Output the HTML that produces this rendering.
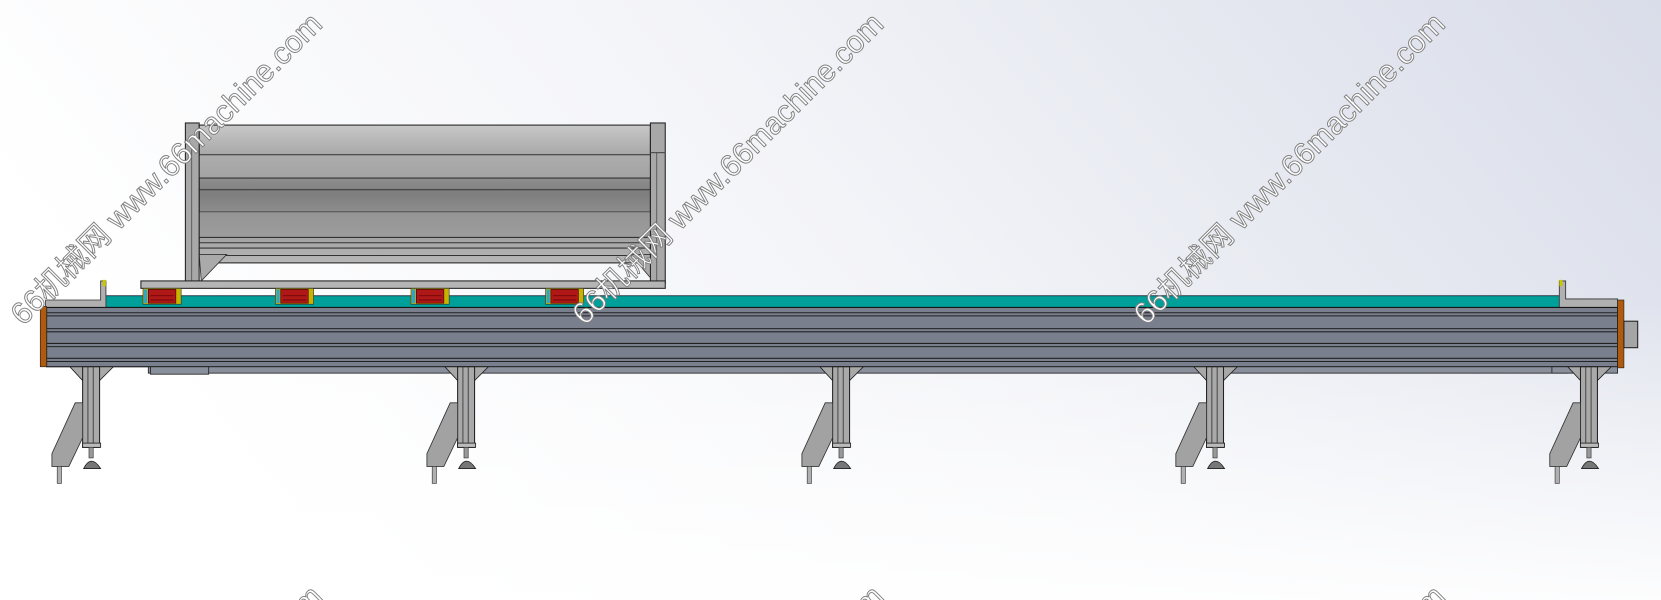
<!DOCTYPE html>
<html><head><meta charset="utf-8"><style>
html,body{margin:0;padding:0;width:1661px;height:600px;overflow:hidden}
svg{display:block;overflow:hidden}
</style></head><body>
<svg width="1661" height="600" viewBox="0 0 1568 566" preserveAspectRatio="none" xmlns="http://www.w3.org/2000/svg">
<defs>
<linearGradient id="bg" x1="0" y1="0.3" x2="1" y2="0">
<stop offset="0" stop-color="#ffffff"/><stop offset="0.45" stop-color="#f3f4f8"/><stop offset="1" stop-color="#d9dde9"/>
</linearGradient>
<linearGradient id="bg2" x1="0" y1="0" x2="0" y2="1">
<stop offset="0.5" stop-color="#ffffff" stop-opacity="0"/><stop offset="1" stop-color="#ffffff" stop-opacity="0.9"/>
</linearGradient>
<linearGradient id="roll" x1="0" y1="0" x2="0" y2="1">
<stop offset="0" stop-color="#c8c8c8"/><stop offset="0.5" stop-color="#7e7e7e"/><stop offset="1" stop-color="#b8b8b8"/>
</linearGradient>
<clipPath id="c"><rect width="1568" height="566"/></clipPath>
<g id="leg">
<polygon points="-12,346 29,346 16,359 0,359" fill="#a8a8a8" stroke="#222" stroke-width="0.8"/>
<rect x="0" y="346" width="16" height="76" fill="#a9a9a9" stroke="#222" stroke-width="1"/>
<line x1="5" y1="346" x2="5" y2="422" stroke="#333" stroke-width="0.8"/>
<line x1="10" y1="346" x2="10" y2="422" stroke="#333" stroke-width="0.8"/>
<rect x="0" y="418" width="17" height="4" fill="#bbb" stroke="#222" stroke-width="0.8"/>
<polygon points="-7,380 0,380 0,413 -13,440 -29,440 -29,428" fill="#a2a2a2" stroke="#333" stroke-width="0.8"/>
<rect x="6" y="422" width="4" height="10" fill="#999" stroke="#333" stroke-width="0.6"/>
<path d="M1,442 Q8,428 17,442 Z" fill="#777" stroke="#222" stroke-width="0.8"/>
<rect x="-24" y="440" width="4" height="16" fill="#b0b0b0" stroke="#333" stroke-width="0.6"/>
</g>
<g id="blk">
<rect x="0" y="272" width="36" height="15" fill="#c8b400" stroke="#333" stroke-width="0.6"/>
<rect x="1" y="273" width="3" height="13" fill="#2aa5d0"/>
<rect x="5" y="273" width="26" height="13" fill="#b01818" stroke="#400" stroke-width="0.6"/>
<line x1="7" y1="279" x2="29" y2="279" stroke="#500" stroke-width="0.6"/>
<line x1="7" y1="283" x2="29" y2="283" stroke="#500" stroke-width="0.6"/>
</g>
</defs>
<g clip-path="url(#c)">
<rect width="1568" height="566" fill="url(#bg)"/>
<rect width="1568" height="566" fill="url(#bg2)"/>

<rect x="188" y="118" width="426" height="130" fill="url(#roll)" stroke="#222"/>
<rect x="188" y="146" width="426" height="22" fill="#b0b0b0" opacity="0.6"/>
<line x1="188" y1="146" x2="614" y2="146" stroke="#333"/>
<line x1="188" y1="168" x2="614" y2="168" stroke="#333"/>
<line x1="188" y1="179" x2="614" y2="179" stroke="#333"/>
<line x1="188" y1="200" x2="614" y2="200" stroke="#333"/>
<rect x="188" y="200" width="426" height="24" fill="#999" opacity="0.6"/>
<line x1="188" y1="224" x2="614" y2="224" stroke="#333"/>
<line x1="188" y1="229" x2="614" y2="229" stroke="#333"/>
<line x1="188" y1="234" x2="614" y2="234" stroke="#333"/>
<line x1="188" y1="241" x2="614" y2="241" stroke="#333"/>
<polygon points="188,240 214,240 190,265" fill="#aaa" stroke="#333" stroke-width="0.8"/>
<polygon points="614,240 595,240 614,262" fill="#aaa" stroke="#333" stroke-width="0.8"/>
<rect x="175" y="116" width="13" height="151" fill="#a8a8a8" stroke="#222"/>
<line x1="181" y1="140" x2="181" y2="265" stroke="#444" stroke-width="0.7"/>
<rect x="614" y="116" width="14" height="151" fill="#a8a8a8" stroke="#222"/>
<line x1="614" y1="144" x2="628" y2="144" stroke="#444"/>
<line x1="620" y1="144" x2="620" y2="265" stroke="#444" stroke-width="0.7"/>
<rect x="133" y="265" width="495" height="7" fill="#b5b5b5" stroke="#222"/>

<rect x="97" y="279" width="1378" height="11" fill="#00a09a" stroke="#123" stroke-width="0.8"/>
<use href="#blk" x="135"/><use href="#blk" x="260"/><use href="#blk" x="388"/><use href="#blk" x="515"/>

<polygon points="43,290 43,283 95,283 95,265 100,265 100,290" fill="#b0b0b0" stroke="#333" stroke-width="0.8"/>
<rect x="97" y="264" width="3" height="6" fill="#c8c800"/>
<polygon points="1472,265 1478,265 1478,282 1527,282 1527,290 1472,290" fill="#b0b0b0" stroke="#333" stroke-width="0.8"/>
<rect x="1472" y="264" width="3" height="6" fill="#c8c800"/>

<rect x="44" y="290" width="1483" height="56" fill="#7a7f8e" stroke="#111"/>
<g stroke="#222" stroke-width="1">
<line x1="44" y1="295" x2="1527" y2="295"/><line x1="44" y1="298" x2="1527" y2="298"/>
<line x1="44" y1="310" x2="1527" y2="310"/><line x1="44" y1="313" x2="1527" y2="313"/>
<line x1="44" y1="324" x2="1527" y2="324"/><line x1="44" y1="327" x2="1527" y2="327"/>
<line x1="44" y1="338" x2="1527" y2="338"/><line x1="44" y1="341" x2="1527" y2="341"/>
</g>
<rect x="38" y="289" width="6" height="57" fill="#b05a10" stroke="#222" stroke-width="0.6"/>
<rect x="1527" y="283" width="6" height="64" fill="#b05a10" stroke="#222" stroke-width="0.6"/>
<rect x="1533" y="303" width="13" height="25" fill="#a5a5a5" stroke="#222"/>
<rect x="140" y="346" width="1340" height="6" fill="#8a8f9c" stroke="#222" stroke-width="0.8"/>
<rect x="142" y="346" width="55" height="7" fill="#8a8f9c" stroke="#222" stroke-width="0.8"/>
<rect x="1465" y="346" width="62" height="6" fill="#8a8f9c" stroke="#222" stroke-width="0.8"/>

<use href="#leg" x="78"/><use href="#leg" x="432"/><use href="#leg" x="786"/><use href="#leg" x="1139"/><use href="#leg" x="1492"/>

<g font-family="Liberation Sans, 'Noto Sans CJK SC', sans-serif" font-size="29" fill="#ffffff" stroke="#808080" stroke-width="0.9">
<text transform="translate(22,308) rotate(-45)">66机械网 www.66machine.com</text>
<text transform="translate(552,308) rotate(-45)">66机械网 www.66machine.com</text>
<text transform="translate(1082,308) rotate(-45)">66机械网 www.66machine.com</text>
<text transform="translate(22,848) rotate(-45)">66机械网 www.66machine.com</text>
<text transform="translate(552,848) rotate(-45)">66机械网 www.66machine.com</text>
<text transform="translate(1082,848) rotate(-45)">66机械网 www.66machine.com</text>
</g>
</g>
</svg>
</body></html>
